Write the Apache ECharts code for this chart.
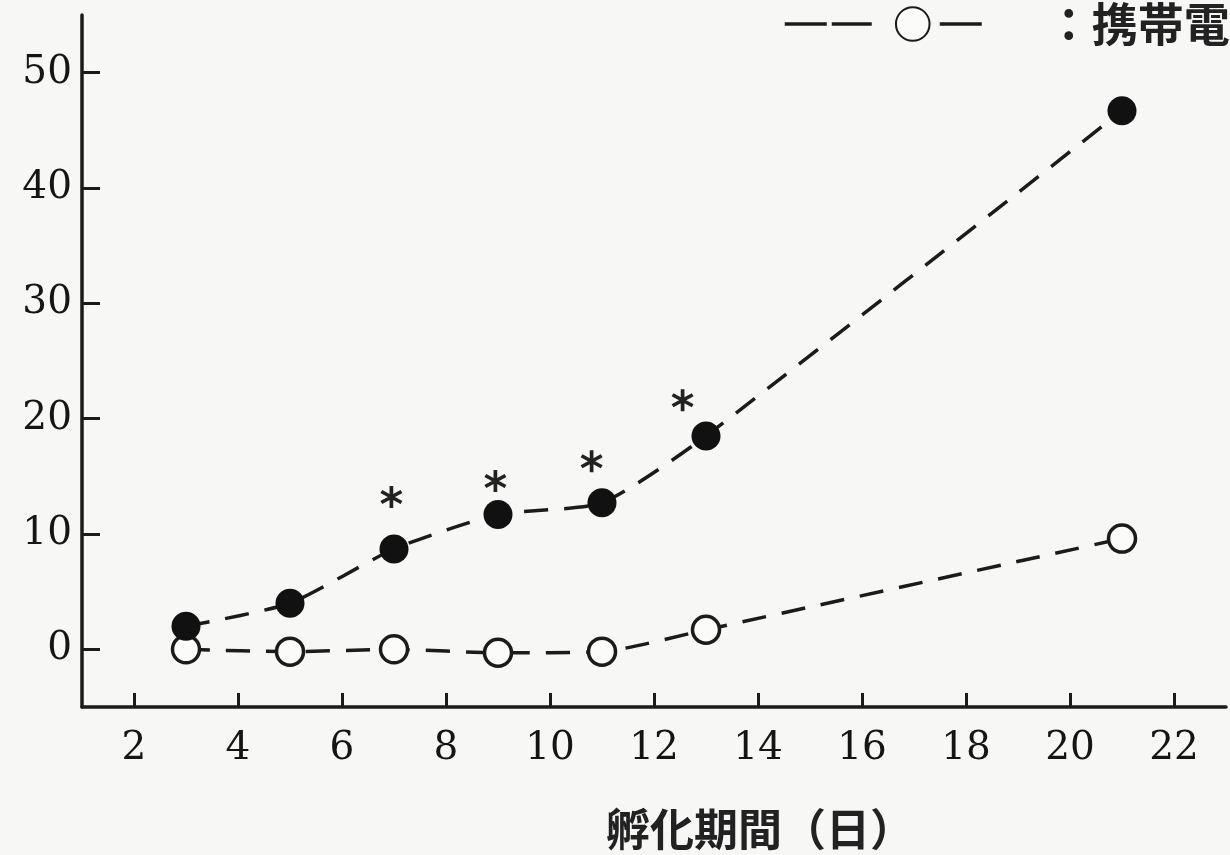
<!DOCTYPE html>
<html>
<head>
<meta charset="utf-8">
<script src="https://cdn.jsdelivr.net/npm/echarts@6/dist/echarts.min.js"></script>
<style>
  html, body { margin: 0; padding: 0; background: #f7f7f5; }
  #chart { width: 1230px; height: 855px; }
</style>
</head>
<body>
<div id="chart"></div>
<script>
// Incubation day of each measurement
const days = [3, 5, 7, 9, 11, 13, 21];
// Filled-circle group
const groupFilled = [2.0, 4.0, 8.7, 11.7, 12.7, 18.5, 46.7];
// Open-circle group (携帯電話)
const groupOpen = [0, -0.2, 0, -0.3, -0.2, 1.7, 9.6];
// Significance marks (*) placed above the filled points
const starDays = [6.95, 8.95, 10.8, 12.55];
const starLevels = [13.2, 14.6, 16.3, 21.6];
// Axis tick values
const xTicks = [2, 4, 6, 8, 10, 12, 14, 16, 18, 20, 22];
const yTicks = [0, 10, 20, 30, 40, 50];

const ink = '#1b1b1b';
const serif = 'DejaVu Serif';
const gothic = 'Noto Sans CJK JP';

// six-spoke asterisk outline
const asteriskPath = 'path://M-1.6,-10 L1.6,-10 L1.6,10 L-1.6,10 Z ' +
  'M7.86,6.39 L-9.46,-3.61 L-7.86,-6.39 L9.46,3.61 Z ' +
  'M-9.46,3.61 L7.86,-6.39 L9.46,-3.61 L-7.86,6.39 Z';

const pairs = (xs, ys) => xs.map((x, i) => [x, ys[i]]);

const chart = echarts.init(document.getElementById('chart'), null, { renderer: 'canvas' });

chart.setOption({
  backgroundColor: '#f7f7f5',
  animation: false,
  grid: { left: 82, right: 4, top: 15, bottom: 148, containLabel: false, outerBoundsMode: 'none' },
  legend: {
    data: ['携帯電話'],
    left: 783,
    top: 1,
    padding: 0,
    itemWidth: 256,
    itemHeight: 42,
    selectedMode: false,
    lineStyle: { type: [42, 5, 40, 68, 42, 1000], width: 3.5, color: ink },
    formatter: name => '：' + name,
    textStyle: { fontFamily: gothic, fontWeight: 'bold', fontSize: 46, color: '#222' }
  },
  xAxis: {
    type: 'value',
    min: 1,
    max: 23,
    splitLine: { show: false },
    axisLine: { show: true, onZero: false, lineStyle: { color: ink, width: 3.5 } },
    axisTick: { show: true, inside: true, length: 14, customValues: xTicks, lineStyle: { color: ink, width: 3 } },
    axisLabel: { customValues: xTicks, fontFamily: serif, fontSize: 39, color: '#151515', margin: 22 },
    name: '孵化期間（日）',
    nameLocation: 'middle',
    nameGap: 100,
    nameTextStyle: { fontFamily: gothic, fontWeight: 'bold', fontSize: 44, color: '#222', padding: [0, 0, 0, 212] }
  },
  yAxis: {
    type: 'value',
    min: -5,
    max: 55,
    splitLine: { show: false },
    axisLine: { show: true, onZero: false, lineStyle: { color: ink, width: 3.5 } },
    axisTick: { show: true, inside: true, length: 18, customValues: yTicks, lineStyle: { color: ink, width: 3 } },
    axisLabel: { customValues: yTicks, fontFamily: serif, fontSize: 39, color: '#151515', margin: 10 }
  },
  series: [
    {
      name: '携帯電話',
      type: 'line',
      data: pairs(days, groupOpen),
      smooth: 0.2,
      symbol: 'circle',
      symbolSize: 27,
      z: 2,
      itemStyle: { color: '#fbfbfa', borderColor: ink, borderWidth: 3.5 },
      lineStyle: { color: ink, width: 3.5, type: [24, 16] }
    },
    {
      name: '曝露群',
      type: 'line',
      data: pairs(days, groupFilled),
      smooth: 0.2,
      symbol: 'circle',
      symbolSize: 29,
      z: 3,
      itemStyle: { color: '#111', borderColor: '#111', borderWidth: 0 },
      lineStyle: { color: ink, width: 3.5, type: [24, 16] }
    },
    {
      name: '有意差',
      type: 'scatter',
      data: pairs(starDays, starLevels),
      symbol: asteriskPath,
      symbolSize: 22,
      z: 4,
      itemStyle: { color: '#222', opacity: 1 }
    }
  ]
});
</script>
</body>
</html>
